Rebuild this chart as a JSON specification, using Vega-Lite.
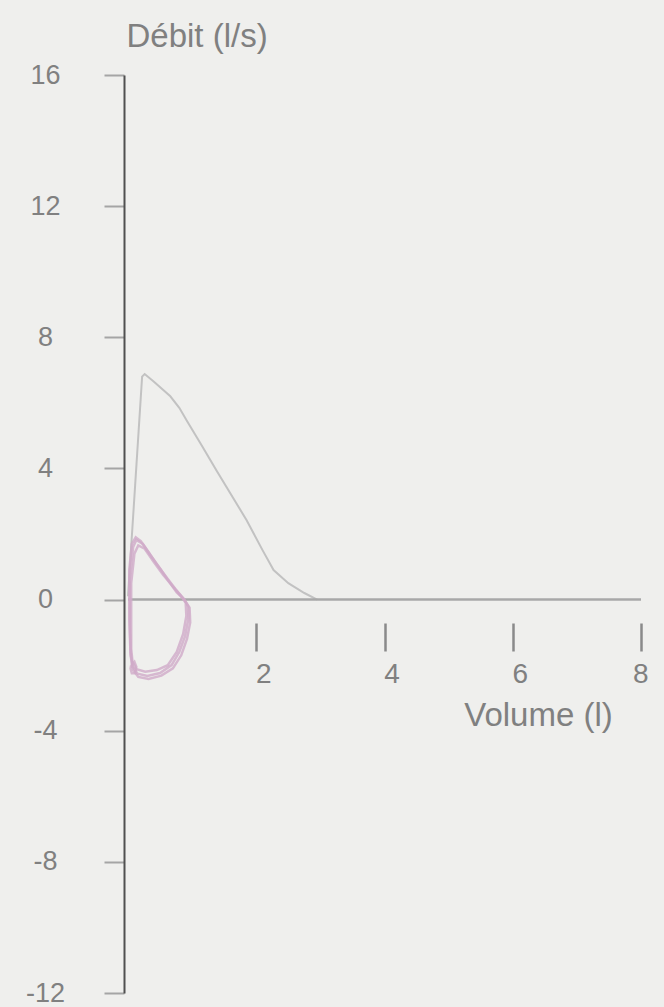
{
  "$schema": "https://vega.github.io/schema/vega-lite/v6.json",
  "width": 513,
  "height": 918,
  "autosize": {"type": "none"},
  "padding": {"left": 128, "top": 75, "right": 23, "bottom": 14},
  "background": "#efefed",
  "config": {"view": {"stroke": null}, "font": "Liberation Sans"},
  "datasets": {
    "expi": [
      {"v": 0.0, "f": 0.1},
      {"v": 0.22, "f": 6.8},
      {"v": 0.26, "f": 6.88},
      {"v": 0.4, "f": 6.65},
      {"v": 0.66, "f": 6.2},
      {"v": 0.8, "f": 5.85},
      {"v": 0.92, "f": 5.45},
      {"v": 1.15, "f": 4.7},
      {"v": 1.38, "f": 3.94},
      {"v": 1.85, "f": 2.42},
      {"v": 2.1, "f": 1.5},
      {"v": 2.27, "f": 0.9},
      {"v": 2.5, "f": 0.5},
      {"v": 2.75, "f": 0.2},
      {"v": 2.95, "f": 0.0}
    ],
    "loops": [
      {"loop": "A", "i": 0, "v": 0.03, "f": -0.8},
      {"loop": "A", "i": 1, "v": 0.03, "f": 0.7},
      {"loop": "A", "i": 2, "v": 0.08, "f": 1.6},
      {"loop": "A", "i": 3, "v": 0.13, "f": 1.82},
      {"loop": "A", "i": 4, "v": 0.23, "f": 1.7},
      {"loop": "A", "i": 5, "v": 0.35, "f": 1.35},
      {"loop": "A", "i": 6, "v": 0.5, "f": 0.95},
      {"loop": "A", "i": 7, "v": 0.62, "f": 0.6},
      {"loop": "A", "i": 8, "v": 0.76, "f": 0.22},
      {"loop": "A", "i": 9, "v": 0.88, "f": 0.0},
      {"loop": "A", "i": 10, "v": 0.94, "f": -0.21},
      {"loop": "A", "i": 11, "v": 0.94, "f": -0.6},
      {"loop": "A", "i": 12, "v": 0.89, "f": -1.12},
      {"loop": "A", "i": 13, "v": 0.8, "f": -1.6},
      {"loop": "A", "i": 14, "v": 0.68, "f": -2.0},
      {"loop": "A", "i": 15, "v": 0.5, "f": -2.24},
      {"loop": "A", "i": 16, "v": 0.3, "f": -2.33},
      {"loop": "A", "i": 17, "v": 0.15, "f": -2.26},
      {"loop": "A", "i": 18, "v": 0.07, "f": -2.05},
      {"loop": "A", "i": 19, "v": 0.04, "f": -1.6},
      {"loop": "A", "i": 20, "v": 0.03, "f": -0.8},
      {"loop": "B", "i": 0, "v": 0.05, "f": -1.0},
      {"loop": "B", "i": 1, "v": 0.05, "f": 0.5},
      {"loop": "B", "i": 2, "v": 0.1, "f": 1.4},
      {"loop": "B", "i": 3, "v": 0.16, "f": 1.65},
      {"loop": "B", "i": 4, "v": 0.26, "f": 1.55},
      {"loop": "B", "i": 5, "v": 0.4, "f": 1.15},
      {"loop": "B", "i": 6, "v": 0.55, "f": 0.75},
      {"loop": "B", "i": 7, "v": 0.7, "f": 0.4},
      {"loop": "B", "i": 8, "v": 0.82, "f": 0.12},
      {"loop": "B", "i": 9, "v": 0.9, "f": -0.1},
      {"loop": "B", "i": 10, "v": 0.91, "f": -0.5},
      {"loop": "B", "i": 11, "v": 0.86, "f": -1.05},
      {"loop": "B", "i": 12, "v": 0.76, "f": -1.6},
      {"loop": "B", "i": 13, "v": 0.62, "f": -2.0},
      {"loop": "B", "i": 14, "v": 0.45, "f": -2.15},
      {"loop": "B", "i": 15, "v": 0.27, "f": -2.2},
      {"loop": "B", "i": 16, "v": 0.13, "f": -2.12},
      {"loop": "B", "i": 17, "v": 0.07, "f": -1.9},
      {"loop": "B", "i": 18, "v": 0.05, "f": -1.5},
      {"loop": "B", "i": 19, "v": 0.05, "f": -1.0},
      {"loop": "C", "i": 0, "v": 0.02, "f": -0.6},
      {"loop": "C", "i": 1, "v": 0.02, "f": 0.9},
      {"loop": "C", "i": 2, "v": 0.06, "f": 1.7},
      {"loop": "C", "i": 3, "v": 0.12, "f": 1.9},
      {"loop": "C", "i": 4, "v": 0.2, "f": 1.78},
      {"loop": "C", "i": 5, "v": 0.32, "f": 1.45},
      {"loop": "C", "i": 6, "v": 0.46, "f": 1.05},
      {"loop": "C", "i": 7, "v": 0.6, "f": 0.68},
      {"loop": "C", "i": 8, "v": 0.74, "f": 0.32},
      {"loop": "C", "i": 9, "v": 0.86, "f": 0.05},
      {"loop": "C", "i": 10, "v": 0.96, "f": -0.25},
      {"loop": "C", "i": 11, "v": 0.97, "f": -0.7},
      {"loop": "C", "i": 12, "v": 0.92, "f": -1.2},
      {"loop": "C", "i": 13, "v": 0.83, "f": -1.7},
      {"loop": "C", "i": 14, "v": 0.7, "f": -2.1},
      {"loop": "C", "i": 15, "v": 0.52, "f": -2.32},
      {"loop": "C", "i": 16, "v": 0.32, "f": -2.42},
      {"loop": "C", "i": 17, "v": 0.16, "f": -2.36},
      {"loop": "C", "i": 18, "v": 0.08, "f": -2.15},
      {"loop": "C", "i": 19, "v": 0.04, "f": -1.7},
      {"loop": "C", "i": 20, "v": 0.02, "f": -0.6},
      {"loop": "D", "i": 0, "v": 0.05, "f": -2.0},
      {"loop": "D", "i": 1, "v": 0.1, "f": -1.9},
      {"loop": "D", "i": 2, "v": 0.13, "f": -2.05},
      {"loop": "D", "i": 3, "v": 0.11, "f": -2.25},
      {"loop": "D", "i": 4, "v": 0.06, "f": -2.25},
      {"loop": "D", "i": 5, "v": 0.04, "f": -2.1},
      {"loop": "D", "i": 6, "v": 0.05, "f": -2.0}
    ]
  },
  "layer": [
    {
      "data": {"name": "expi"},
      "mark": {"type": "line", "color": "#c2c2c2", "strokeWidth": 2},
      "encoding": {
        "x": {
          "field": "v", "type": "quantitative",
          "scale": {"domain": [0, 8], "nice": false, "zero": false},
          "axis": {
            "values": [2, 4, 6, 8], "orient": "bottom", "offset": -370,
            "domain": false, "grid": false,
            "tickSize": 28, "tickColor": "#8a8a8a", "tickWidth": 2.5,
            "labelExpr": "toString(datum.value)",
            "labelFontSize": 28, "labelColor": "#808080", "labelPadding": 9, "labelOffset": 7,
            "title": "Volume (l)", "titleX": 410, "titleY": 92,
            "titleAlign": "center", "titleBaseline": "middle",
            "titleFontSize": 33, "titleFontWeight": "normal", "titleColor": "#808080"
          }
        },
        "y": {
          "field": "f", "type": "quantitative",
          "scale": {"domain": [-12, 16], "nice": false, "zero": false},
          "axis": {
            "values": [-12, -8, -4, 0, 4, 8, 12, 16], "offset": 4, "grid": false,
            "tickSize": 20, "tickColor": "#a5a5a5", "tickWidth": 2,
            "domainColor": "#505050", "domainWidth": 2,
            "labelExpr": "toString(datum.value)",
            "labelFontSize": 27, "labelColor": "#808080", "labelAlign": "center",
            "labelBaseline": "middle", "labelPadding": 59,
            "title": "Débit (l/s)", "titleAngle": 0, "titleX": 2, "titleY": -39,
            "titleAlign": "left", "titleBaseline": "middle",
            "titleFontSize": 33, "titleFontWeight": "normal", "titleColor": "#808080"
          }
        }
      }
    },
    {
      "data": {"values": [{}]},
      "mark": {"type": "rule", "color": "#a8a8a8", "strokeWidth": 2.5},
      "encoding": {"y": {"datum": 0, "type": "quantitative"}}
    },
    {
      "data": {"name": "loops"},
      "mark": {"type": "line", "color": "#d0aac8", "strokeWidth": 2.5, "opacity": 0.8},
      "encoding": {
        "x": {"field": "v", "type": "quantitative"},
        "y": {"field": "f", "type": "quantitative"},
        "detail": {"field": "loop"},
        "order": {"field": "i", "type": "quantitative"}
      }
    }
  ]
}
